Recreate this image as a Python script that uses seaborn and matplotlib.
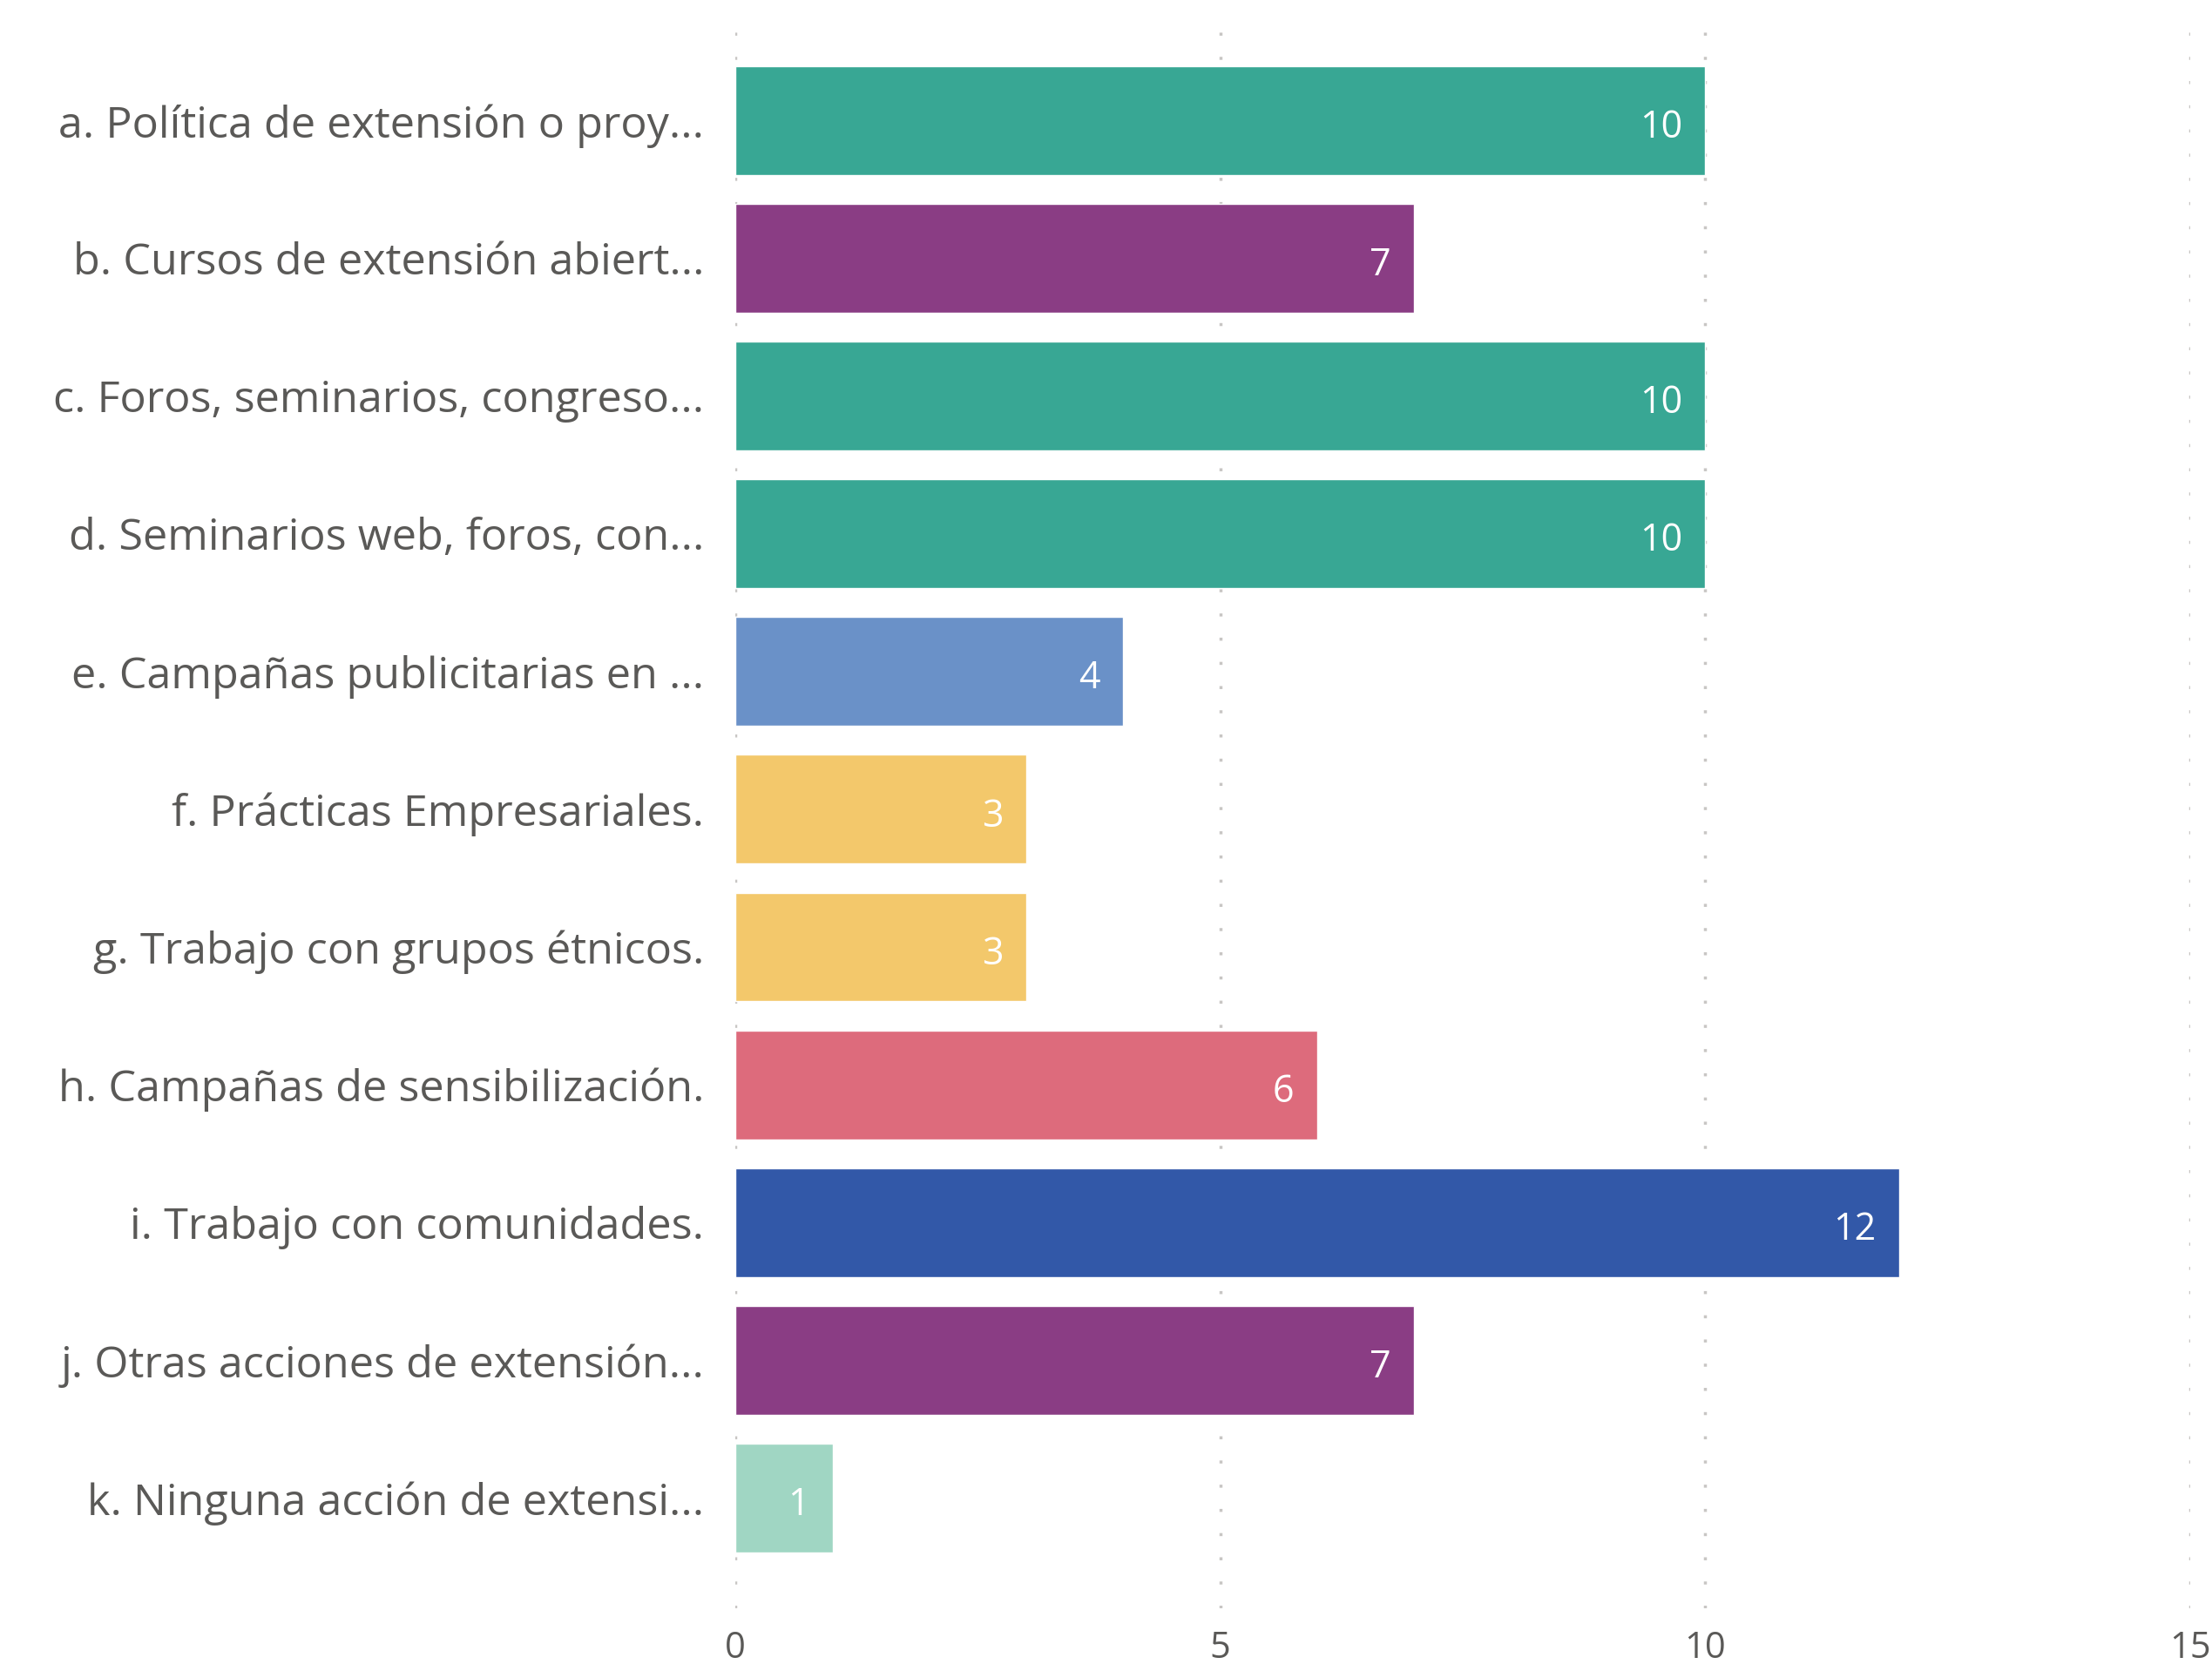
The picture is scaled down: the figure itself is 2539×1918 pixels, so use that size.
import matplotlib
matplotlib.use("Agg")
import matplotlib.pyplot as plt
import seaborn as sns
import pandas as pd

categories = [
    "a. Política de extensión o proy...",
    "b. Cursos de extensión abiert...",
    "c. Foros, seminarios, congreso...",
    "d. Seminarios web, foros, con...",
    "e. Campañas publicitarias en ...",
    "f. Prácticas Empresariales.",
    "g. Trabajo con grupos étnicos.",
    "h. Campañas de sensibilización.",
    "i. Trabajo con comunidades.",
    "j. Otras acciones de extensión...",
    "k. Ninguna acción de extensi...",
]
values = [10, 7, 10, 10, 4, 3, 3, 6, 12, 7, 1]
bar_colors = ["#38A794", "#8A3D84", "#38A794", "#38A794", "#6A91C8", "#F3C86B",
              "#F3C86B", "#DD6B7C", "#3258A8", "#8A3D84", "#A0D6C3"]
x_ticks = [0, 5, 10, 15]

TEXT_COLOR = "#5A5957"
GRID_COLOR = "#C8C6C4"

sns.set_theme(style="white")
plt.rcParams["font.family"] = ["Open Sans", "DejaVu Sans"]

df = pd.DataFrame({"category": categories, "value": values})

fig = plt.figure(figsize=(25.39, 19.18), dpi=100)
ax = fig.add_axes([0.3325, 0.0376, 0.6575, 0.9545])

sns.barplot(data=df, x="value", y="category", hue="category",
            palette=bar_colors, legend=False, width=0.79, saturation=1,
            ax=ax)

ax.set_xlim(0, 15)
ax.set_ylim(10.8, -0.78)
ax.set_xticks(x_ticks)
ax.set_axisbelow(True)
ax.grid(axis="x", color=GRID_COLOR, linewidth=2.5, linestyle=(0, (1, 7)))
ax.grid(axis="y", visible=False)
for s in ax.spines.values():
    s.set_visible(False)

ax.set_xlabel("")
ax.set_ylabel("")
ax.tick_params(axis="y", length=0, pad=26, labelsize=36.3, labelcolor=TEXT_COLOR)
ax.tick_params(axis="x", length=0, pad=18, labelsize=30, labelcolor=TEXT_COLOR)

for i, v in enumerate(values):
    ax.annotate(str(v), xy=(v, i), xytext=(-19, -6), textcoords="offset points",
                ha="right", va="center", color="white", fontsize=31)

fig.savefig("out.png", dpi=100)
